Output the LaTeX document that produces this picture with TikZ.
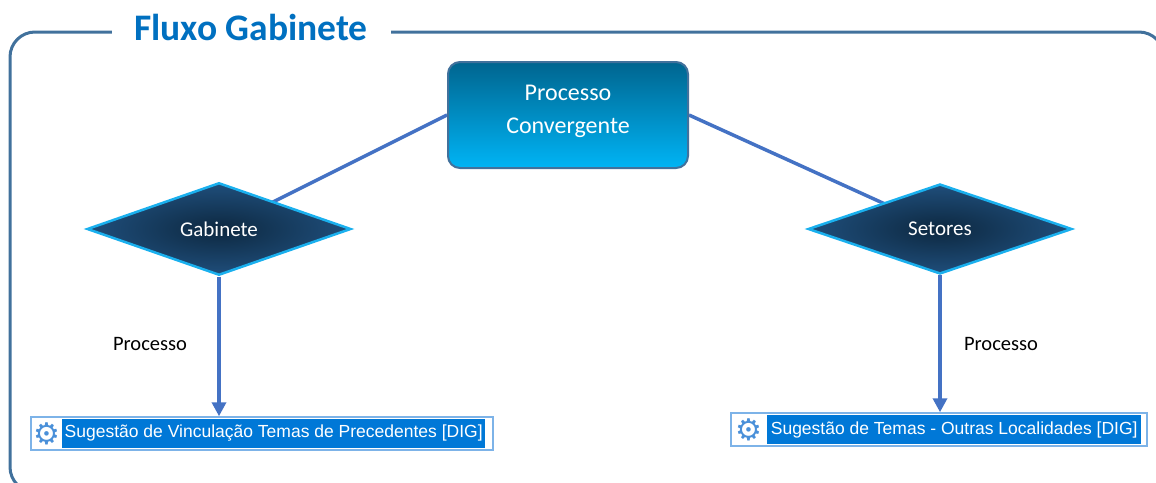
\documentclass[tikz,border=0pt]{standalone}
\usepackage{fontspec}
\setmainfont{Carlito}
\newfontfamily\dejavu{DejaVu Sans}
\newfontfamily\uifont{Liberation Sans}
\usetikzlibrary{shapes.geometric,arrows.meta,backgrounds}
\definecolor{framec}{HTML}{41719C}
\definecolor{titlec}{HTML}{0070C0}
\definecolor{linec}{HTML}{4472C4}
\definecolor{boxtop}{HTML}{00658F}
\definecolor{boxbot}{HTML}{00B4F5}
\definecolor{boxborder}{HTML}{41719C}
\definecolor{dianin}{HTML}{0D2840}
\definecolor{diaout}{HTML}{1F4E7B}
\definecolor{diaborder}{HTML}{1AB0EE}
\definecolor{selblue}{HTML}{0078D7}
\definecolor{selborder}{HTML}{7DB3E8}
\definecolor{gearc}{HTML}{4A90D9}
\begin{document}
\begin{tikzpicture}[x=1pt,y=-1pt,
 procbox/.style={rounded corners=12pt, draw=boxborder, line width=2pt, top color=boxtop, bottom color=boxbot, minimum width=240pt, minimum height=106pt, text=white, align=center, text depth=11pt, font=\fontsize{24}{33}\selectfont},
 decision/.style={diamond, draw=diaborder, line width=2.5pt, inner color=dianin, outer color=diaout, minimum width=264pt, minimum height=90pt, inner sep=0pt, text=white, font=\fontsize{21}{24}\selectfont},
 link/.style={draw=linec, line width=3.5pt},
 flow/.style={link, -{Triangle[width=14pt,length=14pt]}},
 lbl/.style={font=\fontsize{20.5}{24}\selectfont},
 selframe/.style={draw=selborder, line width=1.5pt, fill=white, inner sep=0pt},
 selbar/.style={fill=selblue, inner sep=0pt, text=white, font=\uifont\fontsize{17.5}{20}\selectfont, anchor=west},
 gear/.style={text=gearc, font=\dejavu\fontsize{30}{30}\selectfont, inner sep=0pt},
 titlenode/.style={fill=white, text=titlec, font=\bfseries\fontsize{37.5}{40}\selectfont, minimum width=279pt, anchor=base}
]
\useasboundingbox (0,0) rectangle (1156,482);
\begin{scope}
\clip (0,0) rectangle (1156,482);
\draw[framec, line width=3pt, rounded corners=25pt] (10,32) rectangle (1164,492);
\end{scope}
\node[titlenode] (title) at (251,40) {Fluxo Gabinete};

\node[procbox] (conv) at (568,115) {Processo\\Convergente};
\node[decision] (gab) at (219,229) {Gabinete};
\node[decision] (set) at (940,229) {Setores};

\begin{scope}[on background layer]
\draw[link] (conv.west) -- (gab.center);
\draw[link] (conv.east) -- (set.center);
\end{scope}

\node[lbl] (p1) at (150,344) {Processo};
\node[lbl] (p2) at (1001,344) {Processo};

\node[selframe, minimum width=462pt, minimum height=33pt] (lsel) at (262,433.5) {};
\node[selbar, minimum width=423pt, minimum height=29pt] (lbar) at (62,433.5) {Sugestão de Vinculação Temas de Precedentes [DIG]};
\node[gear] (lgear) at (46.5,433.5) {⚙};

\node[selframe, minimum width=416pt, minimum height=33pt] (rsel) at (939,429.5) {};
\node[selbar, minimum width=374pt, minimum height=29pt] (rbar) at (767,429.5) {Sugestão de Temas - Outras Localidades [DIG]};
\node[gear] (rgear) at (749,429.5) {⚙};

\draw[flow] (gab.south) -- (gab.south |- lsel.north);
\draw[flow] (set.south) -- (set.south |- rsel.north);
\end{tikzpicture}
\end{document}
